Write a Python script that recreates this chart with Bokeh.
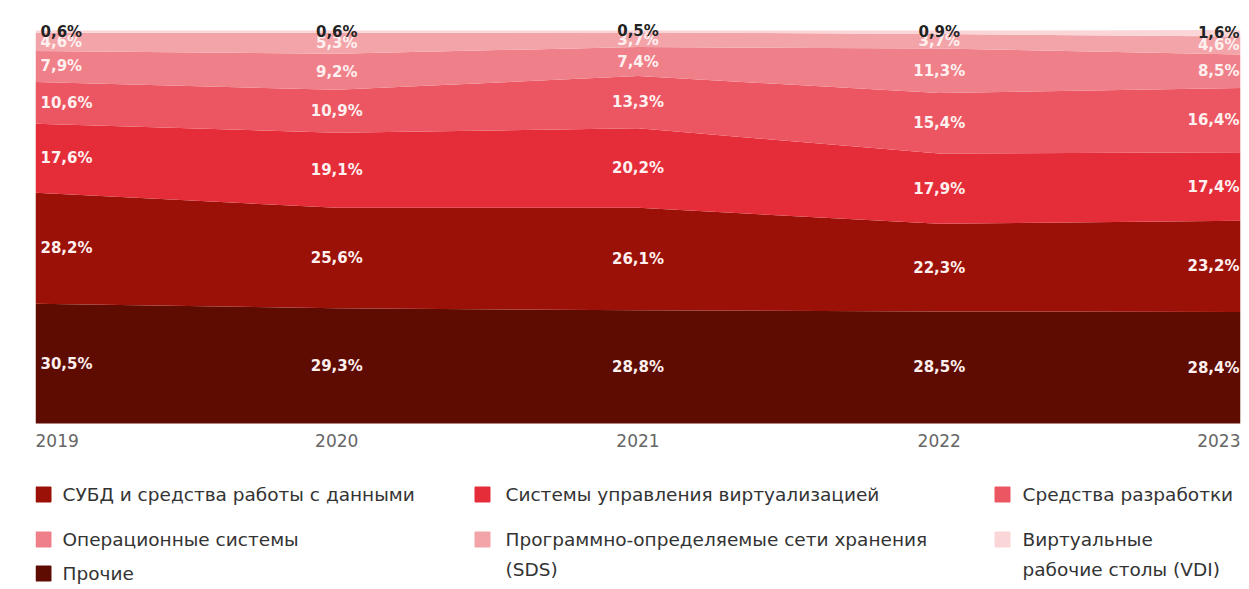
import numpy as np
from bokeh.plotting import figure
from bokeh.layouts import column
from bokeh.models import ColumnDataSource, Range1d
from bokeh.core.properties import value
from bokeh.embed import file_html
from bokeh.resources import INLINE

years = [2019, 2020, 2021, 2022, 2023]
year_labels = ["2019", "2020", "2021", "2022", "2023"]

# bottom -> top
series_names = ["Прочие", "СУБД и средства работы с данными",
                "Системы управления виртуализацией", "Средства разработки",
                "Операционные системы",
                "Программно-определяемые сети хранения (SDS)",
                "Виртуальные рабочие столы (VDI)"]
prochie = [30.5, 29.3, 28.8, 28.5, 28.4]
subd = [28.2, 25.6, 26.1, 22.3, 23.2]
virt = [17.6, 19.1, 20.2, 17.9, 17.4]
dev = [10.6, 10.9, 13.3, 15.4, 16.4]
os_ = [7.9, 9.2, 7.4, 11.3, 8.5]
sds = [4.6, 5.3, 3.7, 3.7, 4.6]
vdi = [0.6, 0.6, 0.5, 0.9, 1.6]
colors = ["#5e0c02", "#9b1007", "#e52d3a", "#ec5662", "#ef7f88", "#f3a4a9", "#fad6d8"]

series = [prochie, subd, virt, dev, os_, sds, vdi]
keys = ["s%d" % i for i in range(len(series))]

W = 1249
BL, BR = 35, 9
px_per_unit = 3.93
top_pad = 15 / px_per_unit
frame_h = 443
y_end = 100 + top_pad
y_start = y_end - frame_h / px_per_unit

p = figure(width=W, height=458, output_backend="svg", toolbar_location=None,
           x_range=Range1d(years[0], years[-1]), y_range=Range1d(y_start, y_end),
           min_border_left=BL, min_border_right=BR, min_border_top=15, min_border_bottom=0)
p.axis.visible = False
p.grid.visible = False
p.outline_line_color = None
p.background_fill_color = "white"

data = {"year": years}
for k, s in zip(keys, series):
    data[k] = s
src = ColumnDataSource(data)
p.varea_stack(stackers=keys, x="year", color=colors, source=src)

# value labels at band centres
arr = np.array(series, dtype=float)
cum = np.cumsum(arr, axis=0)
lx, ly, lt, lc, la, lo = [], [], [], [], [], []
for i in range(arr.shape[0]):
    for j, yr in enumerate(years):
        mid = cum[i, j] - arr[i, j] / 2
        lx.append(yr)
        ly.append(mid)
        lt.append(("%.1f%%" % arr[i, j]).replace(".", ","))
        lc.append("#222222" if i == arr.shape[0] - 1 else "#fff0f0")
        if j == 0:
            la.append("left"); lo.append(5)
        elif j == len(years) - 1:
            la.append("right"); lo.append(-1)
        else:
            la.append("center"); lo.append(0)
lsrc = ColumnDataSource(dict(x=lx, y=ly, t=lt, c=lc, a=la, o=lo))
p.text(x="x", y="y", text="t", text_color="c", text_align="a", x_offset="o",
       text_baseline="middle", text_font=value("DejaVu Sans"), text_font_style="bold",
       text_font_size="15px", source=lsrc)

# year labels
ya = ["left"] + ["center"] * (len(years) - 2) + ["right"]
yo = [0] + [0] * (len(years) - 2) + [0]
ysrc = ColumnDataSource(dict(x=years, y=[0] * len(years), t=year_labels, a=ya, o=yo))
p.text(x="x", y="y", text="t", text_align="a", x_offset="o", y_offset=17,
       text_baseline="middle", text_color="#666666", text_font=value("DejaVu Sans"),
       text_font_size="17px", source=ysrc)

# legend figure (page coordinates; frame aligned with main frame)
LH = 127
lg = figure(width=W, height=LH, output_backend="svg", toolbar_location=None,
            x_range=Range1d(BL, W - BR), y_range=Range1d(458 + LH, 458),
            min_border_left=BL, min_border_right=BR,
            min_border_top=0, min_border_bottom=0)
lg.axis.visible = False
lg.grid.visible = False
lg.outline_line_color = None

col_sq = [43, 482, 1002]
col_tx = [62, 505, 1022]
row_y = [494, 539, 573]
legend_items = [
    (0, 0, 1, ["СУБД и средства работы с данными"]),
    (1, 0, 2, ["Системы управления виртуализацией"]),
    (2, 0, 3, ["Средства разработки"]),
    (0, 1, 4, ["Операционные системы"]),
    (1, 1, 5, ["Программно-определяемые сети хранения", "(SDS)"]),
    (2, 1, 6, ["Виртуальные", "рабочие столы (VDI)"]),
    (0, 2, 0, ["Прочие"]),
]
sx, sy, sc, tx, ty, tt = [], [], [], [], [], []
for c, r, si, lines in legend_items:
    sx.append(col_sq[c]); sy.append(row_y[r]); sc.append(colors[si])
    for k, line in enumerate(lines):
        tx.append(col_tx[c]); ty.append(row_y[r] + 30 * k); tt.append(line)
lg.scatter(x=sx, y=sy, marker="square", size=15, color=sc)
lg.text(x=tx, y=ty, text=tt, text_baseline="middle", text_color="#333333",
        text_font=value("DejaVu Sans"), text_font_size="18.5px")

layout = column(p, lg, spacing=0)
open("out.html", "w").write(file_html(layout, INLINE))
